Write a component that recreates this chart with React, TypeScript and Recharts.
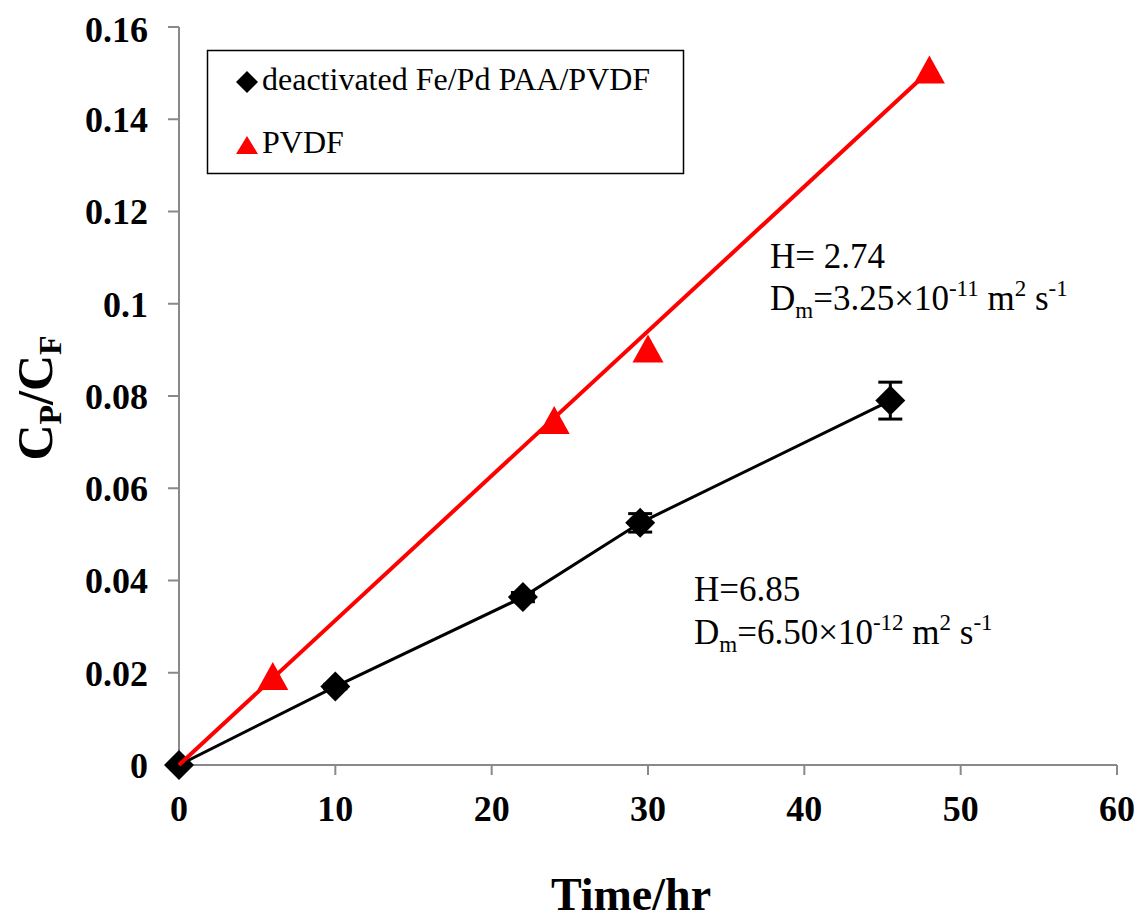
import { ScatterChart, Scatter, XAxis, YAxis, ErrorBar } from 'recharts';

const FONT = "'Liberation Serif', 'Times New Roman', Times, serif";

// deactivated Fe/Pd PAA/PVDF
const deactTime = [0, 10, 22, 29.5, 45.5];
const deactRatio = [0, 0.017, 0.0364, 0.0525, 0.079];
const deactErr = [0, 0.0005, 0.001, 0.002, 0.004];

// PVDF measured points
const pvdfTime = [6, 24, 30, 48];
const pvdfRatio = [0.0193, 0.0748, 0.0903, 0.1508];

// PVDF linear fit (end points)
const pvdfFitTime = [0, 48];
const pvdfFitRatio = [0, 0.1505];

const xTicks = [0, 10, 20, 30, 40, 50, 60];
const yTicks = [0, 0.02, 0.04, 0.06, 0.08, 0.1, 0.12, 0.14, 0.16];

const deact = deactTime.map((t, i) => ({ t, r: deactRatio[i], err: deactErr[i] }));
const pvdf = pvdfTime.map((t, i) => ({ t, r: pvdfRatio[i] }));
const pvdfFit = pvdfFitTime.map((t, i) => ({ t, r: pvdfFitRatio[i] }));

const AXIS = '#898989';

const Diamond = (p: any) => {
  const { cx, cy } = p;
  const h = 15;
  return <polygon points={`${cx},${cy - h} ${cx + h},${cy} ${cx},${cy + h} ${cx - h},${cy}`} fill="#000" />;
};

const Triangle = (p: any) => {
  const { cx, cy } = p;
  return <polygon points={`${cx},${cy - 14} ${cx + 15.5},${cy + 14} ${cx - 15.5},${cy + 14}`} fill="#ff0000" />;
};

const NoShape = () => <g />;

const tickStyle = { fontSize: 36, fontWeight: 'bold', fill: '#000', fontFamily: FONT };

const W = 1130;
const H = 911;

const App = () => (
  <div style={{ position: 'relative', width: W, height: H }}>
    <ScatterChart width={W} height={H} margin={{ top: 19, right: 21, left: 0, bottom: 0 }}>
      <XAxis
        type="number"
        dataKey="t"
        domain={[0, 60]}
        ticks={xTicks}
        height={154}
        stroke={AXIS}
        strokeWidth={2}
        tickSize={10}
        tickMargin={20}
        tick={tickStyle}
      />
      <XAxis xAxisId="top" type="number" dataKey="t" orientation="top" domain={[0, 60]} height={0} tick={false} tickLine={false} stroke={AXIS} strokeWidth={2} />
      <YAxis
        type="number"
        dataKey="r"
        domain={[0, 0.16]}
        ticks={yTicks}
        width={171}
        stroke={AXIS}
        strokeWidth={2}
        tickSize={11}
        tickMargin={20}
        tick={tickStyle}
        tickFormatter={(v: number) => String(Number(v.toFixed(2)))}
      />
      <YAxis yAxisId="right" type="number" dataKey="r" orientation="right" domain={[0, 0.16]} width={0} tick={false} tickLine={false} stroke={AXIS} strokeWidth={2} />
      <Scatter
        data={deact}
        line={{ stroke: '#000', strokeWidth: 3 }}
        shape={Diamond}
        isAnimationActive={false}
      >
        <ErrorBar dataKey="err" direction="y" width={12} stroke="#000" strokeWidth={3} />
      </Scatter>
      <Scatter data={pvdfFit} line={{ stroke: '#ff0000', strokeWidth: 4 }} shape={NoShape} isAnimationActive={false} />
      <Scatter data={pvdf} shape={Triangle} isAnimationActive={false} />
    </ScatterChart>

    <svg width={W} height={H} style={{ position: 'absolute', left: 0, top: 0, pointerEvents: 'none', fontFamily: FONT }}>
      {/* axis titles */}
      <text x={623} y={902} textAnchor="middle" fontSize={46} fontWeight="bold" fill="#000" style={{ fontFamily: FONT }}>Time/hr</text>
      <text transform="translate(44,390) rotate(-90)" textAnchor="middle" fontSize={50} fontWeight="bold" fill="#000" style={{ fontFamily: FONT }}>
        C<tspan fontSize={32} dy={9}>P</tspan><tspan dy={-9}>/C</tspan><tspan fontSize={32} dy={9}>F</tspan>
      </text>

      {/* annotations */}
      <g fontSize={35} fill="#000" style={{ fontFamily: FONT }}>
        <text x={762} y={260}>H= 2.74</text>
        <text x={762} y={302}>
          D<tspan fontSize={23} dy={8}>m</tspan><tspan dy={-8}>=3.25×10</tspan><tspan fontSize={23} dy={-14}>-11</tspan><tspan dy={14}> m</tspan><tspan fontSize={23} dy={-14}>2</tspan><tspan dy={14}> s</tspan><tspan fontSize={23} dy={-14}>-1</tspan>
        </text>
        <text x={686} y={593}>H=6.85</text>
        <text x={686} y={636}>
          D<tspan fontSize={23} dy={8}>m</tspan><tspan dy={-8}>=6.50×10</tspan><tspan fontSize={23} dy={-14}>-12</tspan><tspan dy={14}> m</tspan><tspan fontSize={23} dy={-14}>2</tspan><tspan dy={14}> s</tspan><tspan fontSize={23} dy={-14}>-1</tspan>
        </text>
      </g>

      {/* legend */}
      <rect x={199.5} y={42.5} width={476} height={123} fill="#fff" stroke="#000" strokeWidth={1.5} />
      <polygon points="239,63 250,74 239,85 228,74" fill="#000" />
      <text x={254} y={82} fontSize={32} fill="#000" style={{ fontFamily: FONT }}>deactivated Fe/Pd PAA/PVDF</text>
      <polygon points="239,128 250,146 228,146" fill="#ff0000" />
      <text x={254} y={145} fontSize={32} fill="#000" style={{ fontFamily: FONT }}>PVDF</text>
    </svg>
  </div>
);

export default App;
